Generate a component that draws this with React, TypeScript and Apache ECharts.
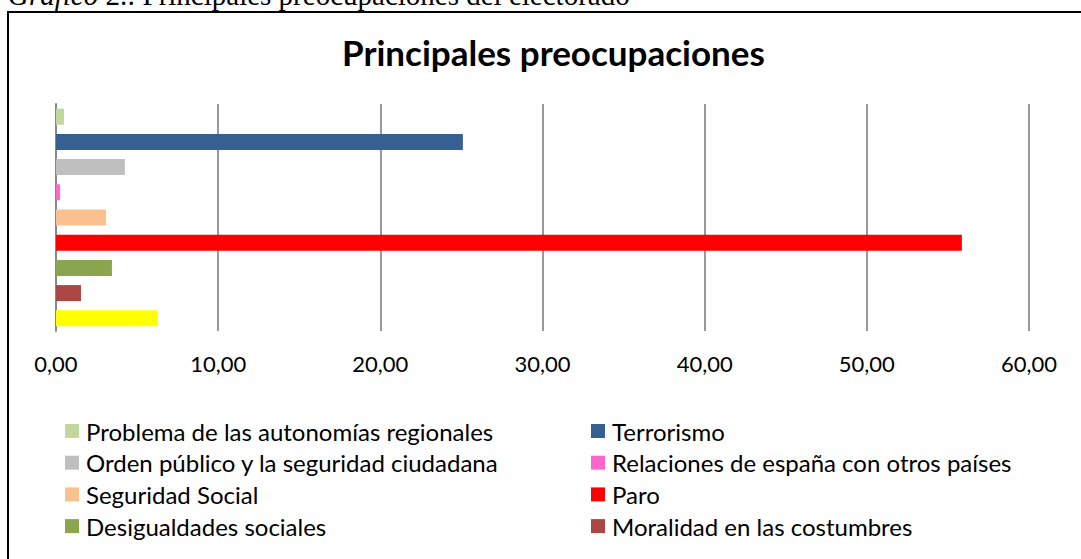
import React, { useEffect, useRef } from "react";
import * as echarts from "echarts";

const seriesNames = [
  "Problema de las autonomías regionales",
  "Terrorismo",
  "Orden público y la seguridad ciudadana",
  "Relaciones de españa con otros países",
  "Seguridad Social",
  "Paro",
  "Desigualdades sociales",
  "Moralidad en las costumbres",
  "Otros",
];
const seriesValues = [0.49, 25.09, 4.25, 0.25, 3.08, 55.86, 3.45, 1.54, 6.29];
const seriesColors = [
  "#C3D69B",
  "#376092",
  "#BFBFBF",
  "#FF66CC",
  "#FAC090",
  "#FF0000",
  "#8BA54E",
  "#AA4643",
  "#FFFF00",
];
const category = ["Preocupaciones"];
const legendLeft = [seriesNames[0], seriesNames[2], seriesNames[4], seriesNames[6]];
const legendRight = [seriesNames[1], seriesNames[3], seriesNames[5], seriesNames[7]];

const fmt = (v: number) => v.toFixed(2).replace(".", ",");

export default function App() {
  const ref = useRef<HTMLDivElement>(null);
  useEffect(() => {
    if (!ref.current) return;
    const chart = echarts.init(ref.current, undefined, { renderer: "svg" });
    const legendCommon = {
      orient: "vertical" as const,
      itemWidth: 14,
      itemHeight: 14,
      itemGap: 7.7,
      icon: "rect",
      selectedMode: false,
      textStyle: {
        fontFamily: "Lato",
        fontSize: 24,
        lineHeight: 24,
        color: "#000",
        padding: [0, 0, 0, 2],
      },
    };
    chart.setOption({
      animation: false,
      backgroundColor: "#fff",
      title: {
        text: "Principales preocupaciones",
        left: 342,
        top: 34,
        padding: 0,
        textStyle: {
          fontFamily: "Lato",
          fontWeight: "bold",
          fontSize: 35,
          color: "#000",
        },
      },
      graphic: [
        {
          type: "rect",
          shape: { x: 8, y: 12, width: 1200, height: 700 },
          style: { fill: "none", stroke: "#000", lineWidth: 2 },
          silent: true,
        },
        {
          type: "text",
          x: 8,
          y: -5,
          style: {
            text: "{i|Gráfico} 2.: Principales preocupaciones del electorado",
            fontFamily: "Liberation Serif",
            fontSize: 29,
            fill: "#000",
            verticalAlign: "middle",
            rich: { i: { fontStyle: "italic", fontFamily: "Liberation Serif", fontSize: 29 } },
          },
          silent: true,
        },
      ],
      legend: [
        { ...legendCommon, left: 60, top: 414, data: legendLeft },
        { ...legendCommon, left: 586, top: 414, data: legendRight },
      ],
      grid: { left: 56, right: 52, top: 104, height: 227, containLabel: false },
      xAxis: {
        type: "value",
        min: 0,
        max: 60,
        interval: 10,
        axisLine: { show: false },
        axisTick: { show: false },
        axisLabel: {
          formatter: fmt,
          fontFamily: "Lato",
          fontSize: 22,
          color: "#000",
          margin: 21,
        },
        splitLine: { lineStyle: { color: "#999", width: 2 } },
      },
      yAxis: {
        type: "category",
        data: category,
        axisLine: { show: true, lineStyle: { color: "#888", width: 2 } },
        axisTick: { show: false },
        axisLabel: { show: false },
      },
      series: seriesNames.map((name, i) => ({
        type: "bar",
        name,
        data: [seriesValues[i]],
        barWidth: 16,
        barGap: "57.5%",
        itemStyle: { color: seriesColors[i] },
      })),
    });
    return () => chart.dispose();
  }, []);
  return (
    <div
      ref={ref}
      style={{ position: "fixed", left: 0, top: 0, width: 1081, height: 559, background: "#fff" }}
    />
  );
}
